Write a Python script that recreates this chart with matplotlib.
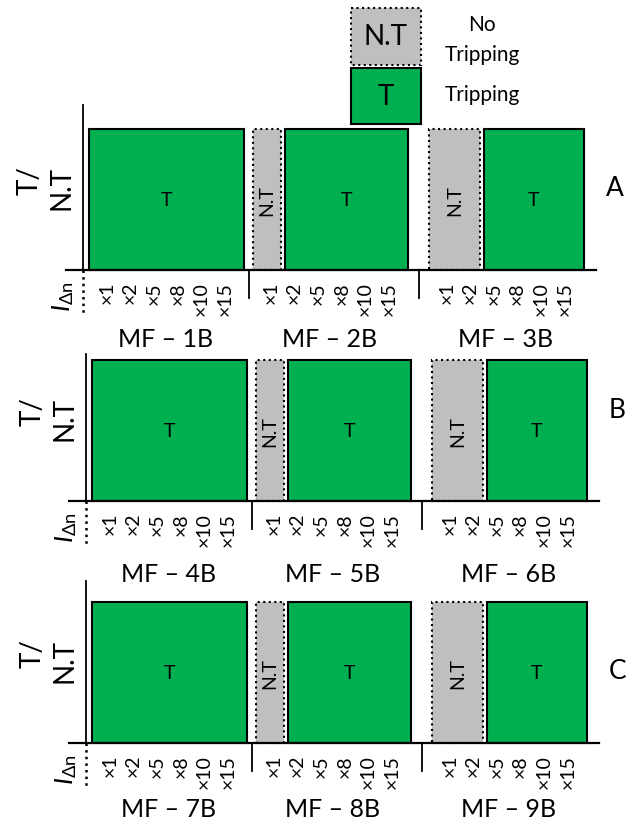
import matplotlib
matplotlib.use('Agg')
import matplotlib.pyplot as plt
from matplotlib.patches import Rectangle

plt.rcParams['font.family'] = ['Lato', 'DejaVu Sans']
plt.rcParams['mathtext.fontset'] = 'custom'
plt.rcParams['mathtext.rm'] = 'Lato'
plt.rcParams['mathtext.it'] = 'Lato:italic'

# ---- data ----
multiples = ['×1', '×2', '×5', '×8', '×10', '×15']
rows = ['A', 'B', 'C']
mf_names = [['MF – 1B', 'MF – 2B', 'MF – 3B'],
            ['MF – 4B', 'MF – 5B', 'MF – 6B'],
            ['MF – 7B', 'MF – 8B', 'MF – 9B']]
# 1 = tripping (T), 0 = no tripping (N.T)
trip_A = [[1, 1, 1, 1, 1, 1], [0, 1, 1, 1, 1, 1], [0, 0, 1, 1, 1, 1]]
trip_B = [[1, 1, 1, 1, 1, 1], [0, 1, 1, 1, 1, 1], [0, 0, 1, 1, 1, 1]]
trip_C = [[1, 1, 1, 1, 1, 1], [0, 1, 1, 1, 1, 1], [0, 0, 1, 1, 1, 1]]
trips = [trip_A, trip_B, trip_C]

# ---- layout ----
W, H = 632, 826
green = '#00B050'
grey = '#BFBFBF'
slot = 23.6                 # px per multiple
bar_h = 141                 # px for full bar height
x0_px = [107, 110, 110]     # pixel of first tick in each row
y0_px = [270, 501, 743]     # pixel of x-axis line in each row
grp_off = [0, 6.95, 14.4]   # group offsets in slot units
yaxis_top = [1.17, 1.04, 1.15]
mf_y = [-0.49, -0.52, -0.47]
letter_y = [0.58, 0.64, 0.51]

fig = plt.figure(figsize=(W / 100, H / 100), dpi=100)

for r in range(3):
    top = y0_px[r] - 1.3 * bar_h
    bot = y0_px[r] + 0.6 * bar_h
    ax = fig.add_axes([0, 1 - bot / H, 1, (bot - top) / H])
    ax.set_xlim(-x0_px[r] / slot, (W - x0_px[r]) / slot)
    ax.set_ylim(-0.6, 1.3)
    ax.axis('off')

    for g in range(3):
        st = trips[r][g]
        off = grp_off[g]
        i = 0
        while i < len(st):
            j = i
            while j + 1 < len(st) and st[j + 1] == st[i]:
                j += 1
            left = off + i - 0.5 - (0.25 if i == 0 else -0.075)
            right = off + j + 0.5 + (0.3 if j == len(st) - 1 else -0.075)
            if st[i] == 1:
                ax.bar(left, 1, width=right - left, align='edge', color=green,
                       edgecolor='black', linewidth=1.5)
                ax.text((left + right) / 2, 0.49, 'T', ha='center', va='center',
                        fontsize=14)
            else:
                ax.bar(left, 1, width=right - left, align='edge', color=grey,
                       edgecolor='black', linewidth=1.5, linestyle=':')
                ax.text((left + right) / 2, 0.49, 'N.T', ha='center', va='center',
                        fontsize=14, rotation=90)
            i = j + 1

        for k, m in enumerate(multiples):
            ax.text(off + k, -0.085, m, rotation=90, ha='center', va='top',
                    fontsize=14)
        ax.text(off + 2.5, mf_y[r], mf_names[r][g], ha='center', va='center',
                fontsize=18)
        if g < 2:
            sep = (off + 5.8 + grp_off[g + 1] - 0.75) / 2
            ax.plot([sep, sep], [0, -0.2], color='black', lw=1.3)

    # axes lines
    ax.plot([-1.72, 20.7], [0, 0], color='black', lw=1.6)
    ax.plot([-1.02, -1.02], [0, yaxis_top[r]], color='black', lw=1.3)
    ax.plot([-1.02, -1.02], [0, -0.31], color='black', lw=1.8, linestyle=':')

    ax.text(-2.6, 0.58, 'T/\nN.T', rotation=90, ha='center', va='center',
            multialignment='right', fontsize=20, linespacing=1.3)
    ax.text(-1.86, -0.19, r'$I_{\Delta\mathrm{n}}$', rotation=90, ha='center',
            va='center', fontsize=19)
    ax.text(21.5, letter_y[r], rows[r], ha='center', va='center', fontsize=19)

# ---- legend ----
lg = fig.add_axes([0, 0, 1, 1])
lg.set_xlim(0, W)
lg.set_ylim(H, 0)
lg.axis('off')
lg.add_patch(Rectangle((351, 8), 70, 57, facecolor=grey, edgecolor='black',
                       linewidth=1.5, linestyle=':'))
lg.add_patch(Rectangle((351, 68), 70, 56, facecolor=green, edgecolor='black',
                       linewidth=1.5))
lg.text(386, 37, 'N.T', ha='center', va='center', fontsize=20)
lg.text(386, 97, 'T', ha='center', va='center', fontsize=20)
lg.text(482, 25, 'No', ha='center', va='center', fontsize=15)
lg.text(482, 55, 'Tripping', ha='center', va='center', fontsize=15)
lg.text(482, 95, 'Tripping', ha='center', va='center', fontsize=15)

fig.savefig('out.png', dpi=100)
